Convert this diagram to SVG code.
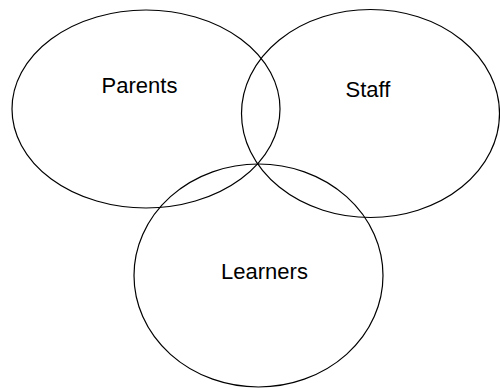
<svg xmlns="http://www.w3.org/2000/svg" width="500" height="388" viewBox="0 0 500 388">
<style>
.set{fill:none;stroke:#000;stroke-width:1.2}
.lbl{font-family:"Liberation Sans",Arial,sans-serif;font-size:22px;fill:#000;text-anchor:middle}
</style>
<rect width="500" height="388" fill="#fff"/>
<g id="parents"><ellipse class="set" cx="146" cy="109" rx="134" ry="99"/><text class="lbl" x="139.5" y="93">Parents</text></g>
<g id="staff"><ellipse class="set" cx="370.5" cy="113.5" rx="129" ry="104"/><text class="lbl" x="368" y="97">Staff</text></g>
<g id="learners"><ellipse class="set" cx="258.5" cy="275.5" rx="124.5" ry="111.5"/><text class="lbl" x="264.5" y="279">Learners</text></g>
<g id="connectors"/>
</svg>
